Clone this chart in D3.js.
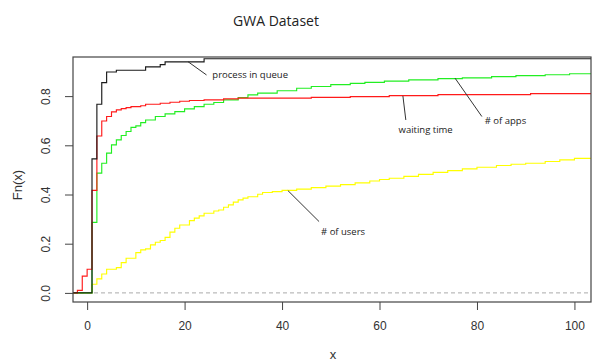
<!DOCTYPE html>
<html>
<head>
<meta charset="utf-8">
<script src="https://cdn.jsdelivr.net/npm/d3@7"></script>
<style>
  body { margin: 0; background: #fff; }
</style>
</head>
<body>
<div id="chart"></div>
<script>
// step positions (x) and cumulative share (y) for each ecdf
let queueX = [1, 2, 3, 4, 6, 12, 15, 16, 24];
let queueY = [0.545, 0.767, 0.855, 0.898, 0.905, 0.919, 0.928, 0.939, 0.952];

let waitX = [-2, -1, 0, 1, 2, 3, 4, 5, 6, 7, 8, 9, 11, 12, 15, 17, 19, 21, 24, 28, 31, 46, 54, 62, 72, 91];
let waitY = [0.01, 0.068, 0.096, 0.417, 0.638, 0.699, 0.717, 0.736, 0.744, 0.749, 0.753, 0.757, 0.761, 0.767,
             0.771, 0.775, 0.779, 0.782, 0.785, 0.789, 0.792, 0.795, 0.798, 0.802, 0.806, 0.810];

let appsX = [1, 2, 3, 4, 5, 6, 7, 8, 9, 10, 11, 12, 14, 16, 18, 20, 22, 24, 26, 28, 31, 33, 35, 39, 43, 46,
             50, 54, 57, 61, 66, 72, 77, 83, 88, 94, 99];
let appsY = [0.287, 0.487, 0.527, 0.568, 0.602, 0.622, 0.640, 0.656, 0.673, 0.679, 0.692, 0.703, 0.717, 0.728,
             0.737, 0.748, 0.757, 0.767, 0.774, 0.785, 0.794, 0.805, 0.812, 0.822, 0.832, 0.839, 0.847, 0.852,
             0.856, 0.861, 0.866, 0.871, 0.874, 0.879, 0.883, 0.887, 0.891];

let usersX = [1, 2, 3, 4, 6, 7, 8, 10, 11, 12, 13, 14, 15, 16, 17, 18, 19, 21, 22, 23, 24, 26, 27, 28, 29, 30,
              31, 32, 33, 35, 36, 38, 40, 43, 46, 49, 52, 55, 58, 60, 62, 65, 68, 71, 74, 77, 80, 84, 87, 90,
              94, 97, 100];
let usersY = [0.035, 0.057, 0.077, 0.096, 0.103, 0.123, 0.141, 0.164, 0.175, 0.179, 0.195, 0.206, 0.213, 0.226,
              0.247, 0.263, 0.276, 0.294, 0.304, 0.313, 0.324, 0.333, 0.337, 0.348, 0.358, 0.369, 0.378, 0.385,
              0.391, 0.401, 0.408, 0.412, 0.417, 0.422, 0.428, 0.434, 0.440, 0.447, 0.455, 0.461, 0.466, 0.474,
              0.482, 0.490, 0.497, 0.504, 0.511, 0.518, 0.523, 0.527, 0.534, 0.541, 0.547];

let xTicks = [0, 20, 40, 60, 80, 100];
let yTicks = [0, 0.2, 0.4, 0.6, 0.8];

// labels: leader line from (x1,y1) to (x2,y2), text at (tx,ty), all in data units
let notes = [
  {text: "process in queue", x1: 20.7, y1: 0.940, x2: 24.5, y2: 0.886, tx: 25.7, ty: 0.874},
  {text: "waiting time",     x1: 64.8, y1: 0.801, x2: 65.4, y2: 0.703, tx: 63.9, ty: 0.652},
  {text: "# of apps",        x1: 75.5, y1: 0.873, x2: 81.0, y2: 0.717, tx: 81.6, ty: 0.688},
  {text: "# of users",       x1: 41.2, y1: 0.416, x2: 47.6, y2: 0.290, tx: 48.0, ty: 0.237}
];

let larg = 593;
let alt = 363;
let mEsq = 73, mDir = 591, mTopo = 57, mBase = 302;

let canvas = d3.select("#chart")
                .append("svg")
                .attr("width", larg)
                .attr("height", alt)
                .style("font-family", "'Liberation Sans', Arial, sans-serif");

var escX = d3.scaleLinear()
                .domain([-2.9, 103.4])
                .range([mEsq, mDir]);

var escY = d3.scaleLinear()
                .domain([-0.037, 0.959])
                .range([mBase, mTopo]);

// dashed baseline at 0
canvas.append("line")
        .attr("x1", mEsq)
        .attr("x2", mDir)
        .attr("y1", escY(0))
        .attr("y2", escY(0))
        .attr("stroke", "#aaa")
        .attr("stroke-dasharray", "4,3");

canvas.append("clipPath").attr("id", "box")
        .append("rect")
        .attr("x", mEsq)
        .attr("y", mTopo)
        .attr("width", mDir - mEsq)
        .attr("height", mBase - mTopo);

let linha = d3.line()
            .x(d => escX(d[0]))
            .y(d => escY(d[1]))
            .curve(d3.curveStepAfter);

function steps(xs, ys) {
    let pts = [[escX.domain()[0], 0]];
    xs.forEach((x, i) => pts.push([x, ys[i]]));
    pts.push([escX.domain()[1], ys[ys.length - 1]]);
    return pts;
}

let series = [
    {xs: usersX, ys: usersY, cor: "#ffff00"},
    {xs: appsX,  ys: appsY,  cor: "#22ee22"},
    {xs: waitX,  ys: waitY,  cor: "#ff1a1a"},
    {xs: queueX, ys: queueY, cor: "#1a1a1a"}
];

canvas.append("g")
        .attr("clip-path", "url(#box)")
        .selectAll("path")
        .data(series)
        .enter()
            .append("path")
            .attr("d", d => linha(steps(d.xs, d.ys)))
            .attr("fill", "none")
            .attr("stroke", d => d.cor)
            .attr("stroke-width", 1.15);

// box
canvas.append("rect")
        .attr("x", mEsq)
        .attr("y", mTopo)
        .attr("width", mDir - mEsq)
        .attr("height", mBase - mTopo)
        .attr("fill", "none")
        .attr("stroke", "#444")
        .attr("stroke-width", 1.2);

let eixoX = d3.axisBottom(escX).tickValues(xTicks).tickSize(8).tickPadding(11).tickFormat(d3.format("d"));
let gx = canvas.append("g")
        .attr("transform", "translate(0," + mBase + ")")
        .call(eixoX);
gx.select(".domain").remove();
gx.selectAll("line").attr("stroke", "#444");
gx.selectAll("text").style("font-size", "12px").attr("fill", "#333");

let eixoY = d3.axisLeft(escY).tickValues(yTicks).tickSize(8).tickFormat(d3.format(".1f"));
let gy = canvas.append("g")
        .attr("transform", "translate(" + mEsq + ",0)")
        .call(eixoY);
gy.select(".domain").remove();
gy.selectAll("line").attr("stroke", "#444");
gy.selectAll("text")
        .style("font-size", "12px")
        .attr("fill", "#333")
        .attr("x", null)
        .attr("dy", null)
        .attr("text-anchor", "middle")
        .attr("transform", "translate(-27,0) rotate(-90)")
        .attr("y", 4);

// axis titles
canvas.append("text")
        .attr("transform", "translate(22,185) rotate(-90)")
        .attr("text-anchor", "middle")
        .style("font-size", "13px")
        .attr("fill", "#333")
        .text("Fn(x)");

canvas.append("text")
        .attr("x", 333)
        .attr("y", 359)
        .attr("text-anchor", "middle")
        .style("font-size", "13px")
        .attr("fill", "#333")
        .text("x");

canvas.append("text")
        .attr("x", 276)
        .attr("y", 26)
        .attr("text-anchor", "middle")
        .style("font-family", "'Open Sans', sans-serif")
        .style("font-size", "14px")
        .attr("fill", "#222")
        .text("GWA Dataset");

// leader lines and labels
let notas = canvas.selectAll(".nota")
        .data(notes)
        .enter()
        .append("g")
        .attr("class", "nota");

notas.append("line")
        .attr("x1", d => escX(d.x1))
        .attr("y1", d => escY(d.y1))
        .attr("x2", d => escX(d.x2))
        .attr("y2", d => escY(d.y2))
        .attr("stroke", "#333")
        .attr("stroke-width", 1);

notas.append("text")
        .attr("x", d => escX(d.tx))
        .attr("y", d => escY(d.ty))
        .style("font-family", "'Open Sans', sans-serif")
        .style("font-size", "9.5px")
        .attr("fill", "#222")
        .text(d => d.text);
</script>
</body>
</html>
